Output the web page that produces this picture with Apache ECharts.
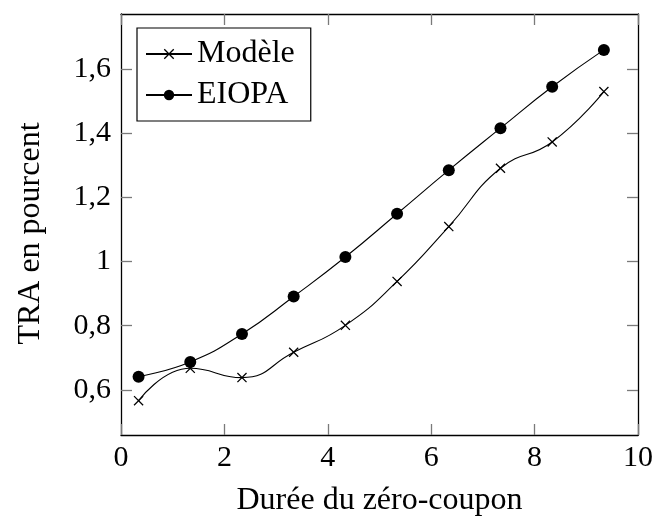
<!DOCTYPE html>
<html>
<head>
<meta charset="utf-8">
<script src="https://cdn.jsdelivr.net/npm/echarts@6/dist/echarts.min.js"></script>
<style>html,body{margin:0;padding:0;background:#fff;}#c{width:656px;height:522px;}</style>
</head>
<body>
<div id="c"></div>
<script>
var durations = [0.34, 1.34, 2.34, 3.34, 4.34, 5.34, 6.34, 7.34, 8.34, 9.34];
var modele = [0.566, 0.667, 0.638, 0.717, 0.801, 0.938, 1.109, 1.291, 1.373, 1.530];
var eiopa = [0.641, 0.687, 0.774, 0.891, 1.014, 1.149, 1.285, 1.416, 1.545, 1.660];
var yTicks = [0.6, 0.8, 1.0, 1.2, 1.4, 1.6];
var xTicks = [0, 2, 4, 6, 8, 10];
var xName = 'Durée du zéro-coupon';
var yName = 'TRA en pourcent';
var seriesNames = ['Modèle', 'EIOPA'];

var FONT = "'Liberation Serif', 'DejaVu Serif', serif";
function pairs(xs, ys){ return xs.map(function(x,i){ return [x, ys[i]]; }); }
function fmt(v){ return String(Math.round(v*10)/10).replace('.', ','); }
var crossPath = 'path://M0,0.9L0.9,0L10,9.1L9.1,10Z M9.1,0L10,0.9L0.9,10L0,9.1Z';
var tickStyle = {show:true, inside:true, length:11, lineStyle:{color:'#7a7a7a', width:1.3}};
var lineAx = {show:true, onZero:false, lineStyle:{color:'#000', width:1.3}};
var yMin = 0.459, yMax = 1.772;

var chart = echarts.init(document.getElementById('c'), null, {renderer:'canvas'});
chart.setOption({
  animation:false,
  backgroundColor:'#fff',
  textStyle:{fontFamily:FONT},
  grid:{left:121, right:17, top:14, bottom:78, containLabel:false},
  legend:{
    left:137, top:28, orient:'vertical',
    backgroundColor:'#fff',
    borderColor:'#000', borderWidth:1.2, borderRadius:0,
    padding:[10,16,10,8], itemGap:9,
    itemWidth:46, itemHeight:13,
    textStyle:{fontFamily:FONT, fontSize:32, color:'#000'},
    data:seriesNames
  },
  xAxis:[{
    type:'value', min:0, max:10, interval:2, position:'bottom',
    name:xName, nameLocation:'middle', nameGap:50,
    nameTextStyle:{fontFamily:FONT, fontSize:32, color:'#000'},
    axisLine:lineAx, axisTick:tickStyle,
    axisLabel:{fontFamily:FONT, fontSize:30, color:'#000', margin:8, formatter:function(v){return fmt(v);}},
    splitLine:{show:false}
  },{
    type:'value', min:0, max:10, interval:2, position:'top',
    axisLine:lineAx, axisTick:tickStyle, axisLabel:{show:false}, splitLine:{show:false}
  }],
  yAxis:[{
    type:'value', min:yMin, max:yMax, position:'left',
    name:yName, nameLocation:'middle', nameGap:74, nameRotate:90,
    nameTextStyle:{fontFamily:FONT, fontSize:32, color:'#000', padding:[0,18,0,0]},
    axisLine:lineAx,
    axisTick:{show:true, inside:true, length:11, lineStyle:{color:'#7a7a7a', width:1.3}, customValues:yTicks},
    axisLabel:{fontFamily:FONT, fontSize:30, color:'#000', margin:10, customValues:yTicks, formatter:function(v){return fmt(v);}},
    splitLine:{show:false}
  },{
    type:'value', min:yMin, max:yMax, position:'right',
    axisLine:lineAx,
    axisTick:{show:true, inside:true, length:11, lineStyle:{color:'#7a7a7a', width:1.3}, customValues:yTicks},
    axisLabel:{show:false}, splitLine:{show:false}
  }],
  series:[{
    name:seriesNames[0], type:'line', smooth:0.5,
    data:pairs(durations, modele),
    symbol:crossPath, symbolSize:10,
    lineStyle:{color:'#000', width:1.1},
    itemStyle:{color:'#000'}
  },{
    name:seriesNames[1], type:'line', smooth:0.5,
    data:pairs(durations, eiopa),
    symbol:'circle', symbolSize:12,
    lineStyle:{color:'#000', width:1.1},
    itemStyle:{color:'#000'}
  }]
});
</script>
</body>
</html>
